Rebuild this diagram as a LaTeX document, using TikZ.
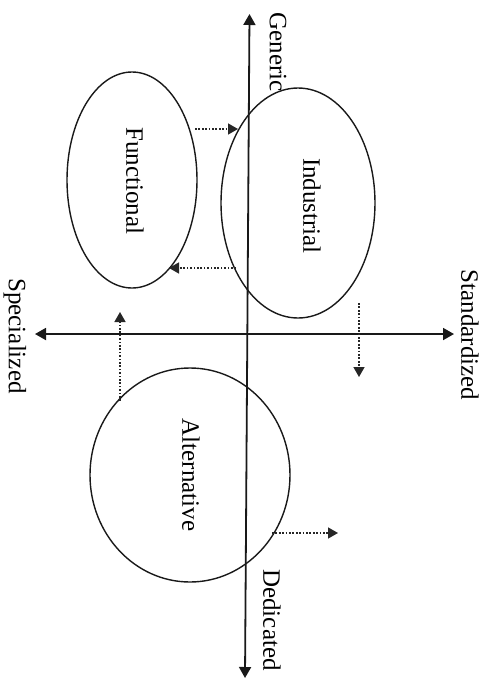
\documentclass[tikz,border=0pt]{standalone}
\usepackage{fontspec}
\setmainfont{Liberation Serif}
\usetikzlibrary{arrows.meta,shapes.geometric}
\begin{document}
\begin{tikzpicture}[x=1pt,y=-1pt,
  axis/.style={line width=1.8pt,black!90,{Triangle[length=11pt,width=12pt]}-{Triangle[length=11pt,width=12pt]}},
  blob/.style={ellipse,draw=black!90,line width=1.4pt,inner sep=0pt,rotate=-90},
  txt/.style={rotate=-90,font=\fontsize{25}{30}\selectfont,inner sep=0pt},
  lab/.style={rotate=-90,font=\fontsize{25}{30}\selectfont,inner sep=0pt},
  dotarrow/.style={line width=1.5pt,black!85,dash pattern=on 1.7pt off 1.7pt,-{Triangle[length=10pt,width=11pt]}}]
\useasboundingbox (0,0) rectangle (486,681);
% axes
\coordinate (vt) at (249.5,14);
\coordinate (vb) at (245,678);
\coordinate (hl) at (35,334);
\coordinate (hr) at (454,334);
\draw[axis] (vt) -- (vb);
\draw[axis] (hl) -- (hr);
% labels
\node[lab] (gen) at (278,52) {Generic};
\node[lab] (spe) at (15,336) {Specialized};
\node[lab] (sta) at (470,335) {Standardized};
\node[lab] (ded) at (272,620) {Dedicated};
% ellipses
\node[blob,minimum width=216pt,minimum height=130pt] (fun) at (132,180) {};
\node[blob,minimum width=230pt,minimum height=154pt] (ind) at (298,203) {};
\node[blob,minimum width=214pt,minimum height=200pt] (alt) at (190,475) {};
\node[txt] (funt) at (135,181) {Functional};
\node[txt] (indt) at (312,206) {Industrial};
\node[txt] (altt) at (191,475) {Alternative};
% dotted arrows
\coordinate (a1s) at (195,129);
\coordinate (a1e) at (238,129);
\coordinate (a2s) at (236,268);
\coordinate (a2e) at (169,268);
\coordinate (a3s) at (359,303);
\coordinate (a3e) at (359,377);
\coordinate (a4s) at (120,401);
\coordinate (a4e) at (120,312);
\coordinate (a5s) at (272,533);
\coordinate (a5e) at (338,533);
\draw[dotarrow] (a1s) -- (a1e);
\draw[dotarrow] (a2s) -- (a2e);
\draw[dotarrow] (a3s) -- (a3e);
\draw[dotarrow] (a4s) -- (a4e);
\draw[dotarrow] (a5s) -- (a5e);
\end{tikzpicture}
\end{document}
